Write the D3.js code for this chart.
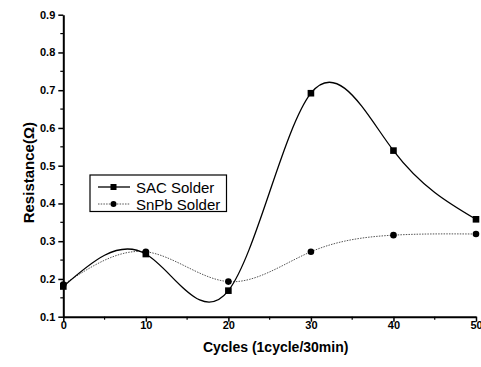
<!DOCTYPE html>
<html>
<head>
<meta charset="utf-8">
<script src="https://cdn.jsdelivr.net/npm/d3@7"></script>
<style>
  html, body { margin: 0; padding: 0; background: #fff; }
  svg { display: block; }
</style>
</head>
<body>
<svg id="chart" width="481" height="367"></svg>
<script>
// Measurement data
const cycles = [0, 10, 20, 30, 40, 50];
const sacResistance = [0.180, 0.266, 0.169, 0.692, 0.540, 0.358];
const snpbResistance = [0.185, 0.272, 0.193, 0.272, 0.316, 0.319];
const xTicks = [0, 10, 20, 30, 40, 50];
const yTicks = [0.1, 0.2, 0.3, 0.4, 0.5, 0.6, 0.7, 0.8, 0.9];
const seriesNames = ["SAC Solder", "SnPb Solder"];

const svg = d3.select("#chart");
const x = d3.scaleLinear().domain([0, 50]).range([63.3, 476]);
const y = d3.scaleLinear().domain([0.1, 0.9]).range([316.7, 14.7]);

const tickFont = "'Liberation Sans', Arial, sans-serif";

// Minor ticks
const xMinor = d3.range(5, 50, 10);
const yMinor = d3.range(0.15, 0.9, 0.1);

svg.append("g").selectAll("line").data(xMinor).join("line")
  .attr("x1", d => x(d)).attr("x2", d => x(d))
  .attr("y1", y(0.1)).attr("y2", y(0.1) + 3)
  .attr("stroke", "#000").attr("stroke-width", 1.2);
svg.append("g").selectAll("line").data(yMinor).join("line")
  .attr("y1", d => y(d)).attr("y2", d => y(d))
  .attr("x1", x(0)).attr("x2", x(0) - 3)
  .attr("stroke", "#000").attr("stroke-width", 1.2);

// Axes
const xAxis = svg.append("g")
  .attr("transform", `translate(0,${y(0.1)})`)
  .call(d3.axisBottom(x).tickValues(xTicks).tickSize(5).tickPadding(0).tickSizeOuter(0).tickFormat(d3.format("d")));
const yAxis = svg.append("g")
  .attr("transform", `translate(${x(0)},0)`)
  .call(d3.axisLeft(y).tickValues(yTicks).tickSize(5).tickSizeOuter(0).tickFormat(d3.format(".1f")));

[xAxis, yAxis].forEach(g => {
  g.select(".domain").attr("stroke-width", 2);
  g.selectAll(".tick line").attr("stroke-width", 1.5);
  g.selectAll(".tick text")
    .attr("font-family", tickFont)
    .attr("font-weight", "bold")
    .attr("font-size", 11)
    .attr("fill", "#000");
});
yAxis.selectAll(".tick text").attr("x", -8);

// Axis titles
svg.append("text")
  .attr("x", (x(0) + x(50)) / 2 + 6).attr("y", 351.5)
  .attr("text-anchor", "middle")
  .attr("font-family", tickFont).attr("font-weight", "bold").attr("font-size", 14)
  .text("Cycles (1cycle/30min)");
svg.append("text")
  .attr("transform", `translate(34,${(y(0.1) + y(0.9)) / 2 + 7}) rotate(-90)`)
  .attr("text-anchor", "middle")
  .attr("font-family", tickFont).attr("font-weight", "bold").attr("font-size", 15)
  .text("Resistance(Ω)");

// Curves
const line = d3.line().x(d => x(d[0])).y(d => y(d[1])).curve(d3.curveNatural);
const sacPts = cycles.map((c, i) => [c, sacResistance[i]]);
const snpbPts = cycles.map((c, i) => [c, snpbResistance[i]]);

svg.append("path").datum(snpbPts).attr("d", line)
  .attr("fill", "none").attr("stroke", "#555").attr("stroke-width", 1)
  .attr("stroke-dasharray", "1.5,1.2");
svg.append("path").datum(sacPts).attr("d", line)
  .attr("fill", "none").attr("stroke", "#000").attr("stroke-width", 1.3);

// Markers
svg.append("g").selectAll("circle").data(snpbPts).join("circle")
  .attr("cx", d => x(d[0])).attr("cy", d => y(d[1])).attr("r", 3.3).attr("fill", "#000");
svg.append("g").selectAll("rect").data(sacPts).join("rect")
  .attr("x", d => x(d[0]) - 3.3).attr("y", d => y(d[1]) - 3.3)
  .attr("width", 6.6).attr("height", 6.6).attr("fill", "#000");

// Legend
const leg = svg.append("g");
leg.append("rect").attr("x", 90).attr("y", 175).attr("width", 136.5).attr("height", 36.5)
  .attr("fill", "#fff").attr("stroke", "#000").attr("stroke-width", 1.2);
const rows = [187, 204];
leg.append("line").attr("x1", 98).attr("x2", 130).attr("y1", rows[0]).attr("y2", rows[0])
  .attr("stroke", "#000").attr("stroke-width", 1.3);
leg.append("rect").attr("x", 110.5).attr("y", rows[0] - 3).attr("width", 6).attr("height", 6).attr("fill", "#000");
leg.append("line").attr("x1", 98).attr("x2", 130).attr("y1", rows[1]).attr("y2", rows[1])
  .attr("stroke", "#555").attr("stroke-width", 1).attr("stroke-dasharray", "1.5,1.2");
leg.append("circle").attr("cx", 113.5).attr("cy", rows[1]).attr("r", 3).attr("fill", "#000");
leg.selectAll("text.lab").data(seriesNames).join("text")
  .attr("class", "lab")
  .attr("x", 136).attr("y", (d, i) => rows[i] + 5.5)
  .attr("font-family", tickFont).attr("font-size", 15)
  .text(d => d);
</script>
</body>
</html>
